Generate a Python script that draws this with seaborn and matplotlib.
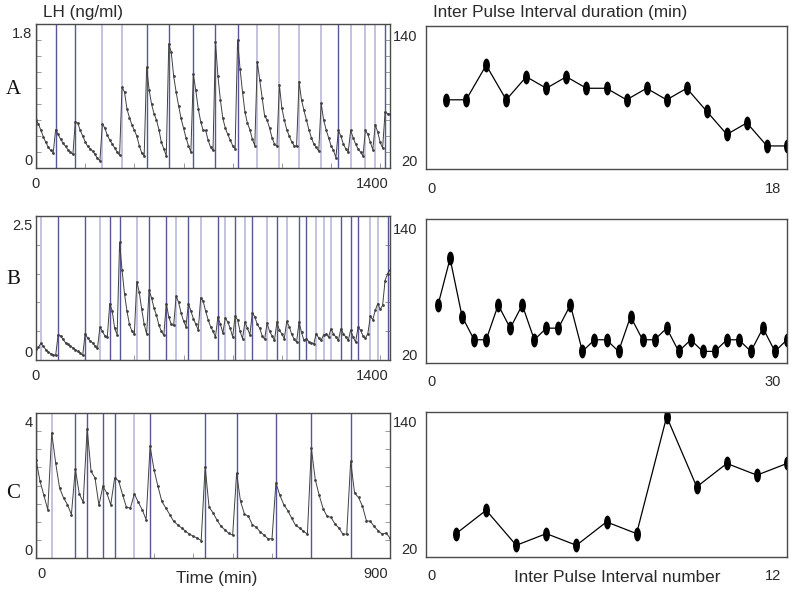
import numpy as np
import matplotlib
matplotlib.use("Agg")
import matplotlib.pyplot as plt
import matplotlib.transforms as mtransforms
from matplotlib.path import Path
import seaborn as sns

# LH sampled every 10 min
STEP = 10

# ---- A ----
lh_a = [
    0.60, 0.55, 0.47, 0.39, 0.32, 0.26, 0.22, 0.19,
    0.48, 0.42, 0.36, 0.31, 0.27, 0.23, 0.20, 0.17,
    0.58, 0.56, 0.47, 0.40, 0.33, 0.27, 0.24, 0.21, 0.17, 0.12, 0.09,
    0.55, 0.50, 0.41, 0.35, 0.30, 0.25, 0.20, 0.16,
    1.01, 0.95, 0.74, 0.63, 0.54, 0.47, 0.40, 0.28, 0.19, 0.15,
    1.26, 0.98, 0.80, 0.68, 0.60, 0.48, 0.32, 0.24, 0.15,
    1.55, 1.45, 1.15, 0.95, 0.78, 0.62, 0.50, 0.38, 0.28, 0.20,
    1.17, 0.97, 0.74, 0.58, 0.47, 0.47, 0.35, 0.26, 0.22,
    1.58, 1.15, 0.85, 0.62, 0.50, 0.42, 0.35, 0.28, 0.24,
    1.60, 1.24, 0.95, 0.70, 0.56, 0.48, 0.36, 0.28,
    1.33, 1.10, 0.88, 0.65, 0.60, 0.50, 0.38, 0.30, 0.27,
    1.04, 0.75, 0.60, 0.48, 0.40, 0.33, 0.28, 0.27,
    1.08, 0.85, 0.72, 0.60, 0.48, 0.38, 0.30, 0.26, 0.21,
    0.81, 0.60, 0.48, 0.38, 0.28, 0.22, 0.13,
    0.47, 0.40, 0.30, 0.24, 0.20,
    0.47, 0.38, 0.30, 0.24, 0.20, 0.15,
    0.47, 0.42, 0.32, 0.23,
    0.54, 0.45, 0.32, 0.25,
    0.70, 0.68, 0.67,
]
pulses_a = [0, 80, 160, 270, 350, 450, 540, 640, 730, 820, 900, 990, 1070,
            1160, 1230, 1280, 1340, 1380, 1420]
faint_a = [270, 350, 900, 990, 1070, 1160, 1280, 1340, 1380]
ipi_a = [80, 80, 110, 80, 100, 90, 100, 90, 90, 80, 90, 80, 90, 70, 50, 60, 40, 40]

# ---- B ----
lh_b = [
    0.19, 0.22,
    0.29, 0.24, 0.18, 0.14, 0.11, 0.09, 0.08,
    0.44, 0.42, 0.36, 0.30, 0.27, 0.24, 0.21, 0.18, 0.15, 0.12, 0.08,
    0.46, 0.38, 0.33, 0.30, 0.24, 0.20,
    0.57, 0.50, 0.42, 0.40,
    0.98, 0.85, 0.55, 0.44,
    2.04, 1.56, 1.15, 0.85, 0.62, 0.50, 0.45,
    1.36, 1.18, 0.88, 0.62, 0.45,
    1.21, 1.08, 0.90, 0.78, 0.60, 0.50, 0.43,
    0.98, 0.75, 0.62, 0.60,
    1.11, 1.00, 0.82, 0.68, 0.58,
    0.98, 0.85, 0.72, 0.62, 0.52,
    1.08, 1.02, 0.85, 0.70, 0.58, 0.50, 0.40,
    0.75, 0.62, 0.47,
    0.73, 0.66, 0.55, 0.40,
    0.76, 0.70, 0.50, 0.37,
    0.66, 0.55, 0.44,
    0.82, 0.75, 0.62, 0.55, 0.42, 0.36,
    0.64, 0.50, 0.42, 0.34,
    0.66, 0.52, 0.45, 0.37,
    0.67, 0.58, 0.45, 0.36, 0.31,
    0.66, 0.48, 0.34,
    0.37, 0.32, 0.30, 0.28,
    0.46, 0.38, 0.34,
    0.44, 0.45, 0.40,
    0.54, 0.45, 0.40, 0.34,
    0.54, 0.46, 0.40, 0.34,
    0.52, 0.40, 0.31,
    0.57, 0.52, 0.42, 0.38, 0.46,
    0.76, 0.70, 0.86,
    0.98, 0.88, 0.95, 1.38,
    1.50, 1.56,
]
pulses_b = [20, 90, 200, 260, 300, 340, 410, 460, 530, 570, 620, 670, 740, 770,
            810, 850, 880, 940, 980, 1020, 1070, 1100, 1140, 1170, 1200, 1240,
            1280, 1310, 1360, 1390, 1430]
faint_b = [20, 260, 410, 570, 670, 770, 850, 940, 1020, 1140, 1170, 1200, 1360, 1390]
ipi_b = [70, 110, 60, 40, 40, 70, 50, 70, 40, 50, 50, 70, 30, 40, 40, 30, 60, 40,
         40, 50, 30, 40, 30, 30, 40, 40, 30, 50, 30, 40]

# ---- C ----
lh_c = [
    2.71, 2.13, 1.73, 1.33,
    3.45, 2.62, 1.93, 1.66, 1.47, 1.20,
    2.46, 1.77, 1.54,
    3.57, 2.39, 2.21, 1.45,
    1.98, 1.79, 1.47,
    2.21, 2.13, 1.75, 1.40, 1.38,
    1.77, 1.54, 1.33, 1.06,
    3.08, 2.44, 1.98, 1.56, 1.38, 1.20, 1.01, 0.92, 0.83, 0.74, 0.66, 0.60, 0.55, 0.48,
    2.52, 1.40, 1.25, 1.05, 0.88, 0.78, 0.68, 0.63,
    2.34, 1.56, 1.21, 1.15, 0.92, 0.85, 0.72, 0.63, 0.53, 0.53,
    2.07, 1.73, 1.47, 1.31, 1.10, 0.90, 0.83, 0.74, 0.66,
    3.03, 2.16, 1.73, 1.36, 1.15, 1.12, 0.94, 0.83, 0.66, 0.66,
    2.67, 1.79, 1.67, 1.43, 1.03, 1.01, 0.87, 0.75, 0.66, 0.69, 0.55,
]
pulses_c = [0, 40, 100, 130, 170, 200, 250, 290, 430, 510, 610, 700, 800]
faint_c = [40, 250]
ipi_c = [40, 60, 30, 40, 30, 50, 40, 140, 80, 100, 90, 100]

panels = [
    ("A", lh_a, pulses_a, faint_a, ipi_a, 1.8, 1440, 1400, 0.2, 200),
    ("B", lh_b, pulses_b, faint_b, ipi_b, 2.5, 1440, 1400, 0.5, 200),
    ("C", lh_c, pulses_c, faint_c, ipi_c, 4.0, 900, 900, 0.5, 100),
]

# pixel boxes (x0, y0, x1, y1) of each axes, top-left origin
left_boxes = [(36, 24, 390, 168), (36, 216, 390, 360), (36, 413, 390, 558)]
right_boxes = [(426, 26, 787, 169), (426, 219, 787, 363), (426, 412, 787, 557)]
letter_y = [90, 279, 493]

W, H = 794, 592
sns.set_style("white")
plt.rcParams["font.family"] = ["Liberation Sans", "DejaVu Sans"]

fig = plt.figure(figsize=(W / 100, H / 100), dpi=100)

DARK = "#56569a"
LIGHT = "#c3c3e2"
FRAME = "#4a4a4a"
TXT = "#2a2a2a"


def box_axes(b):
    x0, y0, x1, y1 = b
    return fig.add_axes([x0 / W, 1 - y1 / H, (x1 - x0) / W, (y1 - y0) / H])


def shift(dx, dy):
    return mtransforms.ScaledTranslation(dx / 100, dy / 100, fig.dpi_scale_trans)


def style_labels(ax, xspec, yspec):
    for lab, (ha, dx) in zip(ax.get_xticklabels(), xspec):
        lab.set_horizontalalignment(ha)
        lab.set_transform(lab.get_transform() + shift(dx, 0))
    for lab, (va, dy) in zip(ax.get_yticklabels(), yspec):
        lab.set_verticalalignment(va)
        lab.set_transform(lab.get_transform() + shift(0, dy))


def frame(ax):
    for s in ax.spines.values():
        s.set_color(FRAME)
        s.set_linewidth(1.0)


ellipse = Path.unit_circle().transformed(mtransforms.Affine2D().scale(0.5, 1.0))

for i, (name, lh, pulses, faint, ipi, ymax, xmax, xlab, ystep, xstep) in enumerate(panels):
    # left: LH time series
    ax = box_axes(left_boxes[i])
    t = np.arange(len(lh)) * STEP
    for p in pulses:
        if p in faint:
            ax.axvline(p, color=LIGHT, lw=1.4, zorder=1)
        else:
            ax.axvline(p, color=DARK, lw=1.0, zorder=1)
    sns.lineplot(x=t, y=lh, ax=ax, color="#404040", lw=0.7, marker="o",
                 markersize=2.0, markeredgewidth=0, zorder=3)
    ax.set_xlim(0, xmax)
    ax.set_ylim(0, ymax)
    ax.set_xticks([0, xlab], labels=["0", str(xlab)])
    ax.set_yticks([0, ymax], labels=["0", f"{ymax:g}"])
    ax.set_xticks(np.arange(xstep, xlab, xstep), minor=True)
    ax.set_yticks(np.arange(ystep, ymax - 1e-6, ystep), minor=True)
    ax.tick_params(which="both", direction="in", length=3.5, width=0.6,
                   color="#8a8a8a", left=True, right=True, bottom=True, top=False)
    ax.tick_params(axis="x", pad=6.5, labelsize=10.5, labelcolor=TXT)
    ax.tick_params(axis="y", pad=2.5, labelsize=10.5, labelcolor=TXT)
    if name == "C":
        style_labels(ax, [("left", 1), ("right", -2)], [("bottom", 0), ("top", -3)])
    else:
        style_labels(ax, [("center", 0), ("right", 8)], [("bottom", 0), ("top", -3)])
    frame(ax)
    ax.set_xlabel("")
    ax.set_ylabel("")
    fig.text(13 / W, 1 - letter_y[i] / H, name, family=["Liberation Serif", "DejaVu Serif"],
             fontsize=15, ha="center", va="center", color="#111")

    # right: inter pulse intervals
    ax2 = box_axes(right_boxes[i])
    n = np.arange(1, len(ipi) + 1)
    sns.lineplot(x=n, y=ipi, ax=ax2, color="black", lw=0.9, marker=ellipse,
                 markersize=10, markeredgewidth=0, markerfacecolor="black")
    ax2.set_xlim(0, len(ipi))
    ax2.set_ylim(20, 144)
    ax2.set_xticks([0, len(ipi)], labels=["0", str(len(ipi))])
    ax2.set_yticks([20, 140], labels=["20", "140"])
    ax2.tick_params(which="both", length=0)
    ax2.tick_params(axis="x", pad=9, labelsize=10.5, labelcolor=TXT)
    ax2.tick_params(axis="y", pad=6, labelsize=10.5, labelcolor=TXT)
    style_labels(ax2, [("left", 1), ("right", -6)], [("bottom", 0), ("top", 1)])
    frame(ax2)
    ax2.set_xlabel("")
    ax2.set_ylabel("")

fig.text(43 / W, 1 - 12 / H, "LH (ng/ml)", fontsize=12.3, color=TXT, va="center")
fig.text(433 / W, 1 - 13 / H, "Inter Pulse Interval duration (min)", fontsize=12.3,
         color=TXT, va="center")
fig.text(217 / W, 1 - 578 / H, "Time (min)", fontsize=12.3, color=TXT,
         ha="center", va="center")
fig.text(617 / W, 1 - 578 / H, "Inter Pulse Interval number", fontsize=12.3,
         color=TXT, ha="center", va="center")

fig.savefig("out.png", dpi=100)
